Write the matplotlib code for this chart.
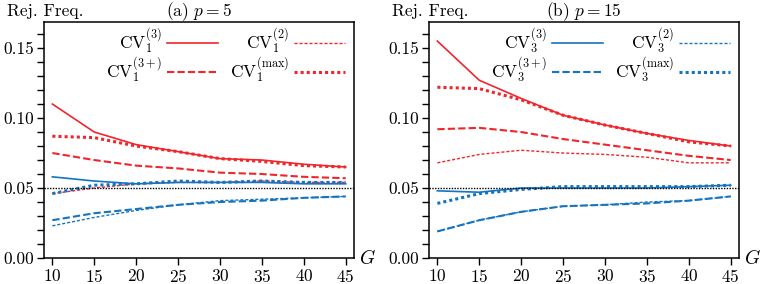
import numpy as np
import matplotlib
matplotlib.use('Agg')
import matplotlib.pyplot as plt
from matplotlib.ticker import MultipleLocator

plt.rcParams['font.family'] = ['cmr10']
plt.rcParams['mathtext.fontset'] = 'cm'
plt.rcParams['axes.formatter.use_mathtext'] = True

# number of groups
G = [10, 15, 20, 25, 30, 35, 40, 45]

# (a) p = 5
cv1_3_a = [0.110, 0.090, 0.081, 0.076, 0.071, 0.070, 0.067, 0.065]
cv1_max_a = [0.087, 0.086, 0.080, 0.076, 0.071, 0.069, 0.066, 0.065]
cv1_3p_a = [0.075, 0.070, 0.066, 0.064, 0.061, 0.060, 0.058, 0.057]
cv1_2_a = [0.046, 0.050, 0.053, 0.054, 0.054, 0.055, 0.054, 0.054]
cv3_3_a = [0.058, 0.055, 0.053, 0.054, 0.054, 0.054, 0.053, 0.053]
cv3_max_a = [0.046, 0.052, 0.053, 0.055, 0.054, 0.055, 0.054, 0.054]
cv3_3p_a = [0.027, 0.032, 0.035, 0.038, 0.040, 0.041, 0.043, 0.044]
cv3_2_a = [0.023, 0.029, 0.034, 0.038, 0.041, 0.042, 0.043, 0.044]

# (b) p = 15
cv1_3_b = [0.155, 0.127, 0.114, 0.102, 0.095, 0.089, 0.084, 0.080]
cv1_max_b = [0.122, 0.121, 0.113, 0.102, 0.095, 0.089, 0.083, 0.080]
cv1_3p_b = [0.092, 0.093, 0.090, 0.085, 0.081, 0.077, 0.073, 0.070]
cv1_2_b = [0.068, 0.074, 0.077, 0.075, 0.074, 0.072, 0.068, 0.068]
cv3_3_b = [0.048, 0.047, 0.050, 0.050, 0.050, 0.050, 0.051, 0.052]
cv3_max_b = [0.039, 0.046, 0.049, 0.051, 0.051, 0.051, 0.051, 0.052]
cv3_3p_b = [0.019, 0.027, 0.033, 0.037, 0.038, 0.039, 0.041, 0.044]
cv3_2_b = [0.019, 0.027, 0.033, 0.037, 0.038, 0.040, 0.041, 0.044]

red = '#f0262c'
blue = '#1574c0'

styles = {
    '3': dict(ls='-', lw=1.2),
    '3p': dict(ls=(0, (3.5, 1.5)), lw=1.5),
    '2': dict(ls=(0, (2.2, 1.4)), lw=1.0),
    'max': dict(ls=(0, (1, 1)), lw=2.2),
}

fig = plt.figure(figsize=(7.61, 2.84), dpi=100)
ax1 = fig.add_axes([0.0578, 0.0915, 0.4075, 0.831])
ax2 = fig.add_axes([0.5637, 0.0915, 0.4075, 0.831])


def panel(ax, red_series, blue_series, k, col, title):
    lines = {}
    for key, vals in red_series.items():
        l, = ax.plot(G, vals, color=red, **styles[key])
        if col == red:
            lines[key] = l
    for key, vals in blue_series.items():
        l, = ax.plot(G, vals, color=blue, **styles[key])
        if col == blue:
            lines[key] = l
    ax.axhline(0.05, color='black', ls=(0, (1, 1)), lw=1.0, zorder=5)

    ax.set_xlim(9, 46)
    ax.set_ylim(0, 0.1686)
    ax.set_xticks(G)
    ax.yaxis.set_major_locator(MultipleLocator(0.05))
    ax.yaxis.set_minor_locator(MultipleLocator(0.01))
    ax.yaxis.set_major_formatter(plt.FormatStrFormatter('%.2f'))
    ax.tick_params(axis='both', which='major', direction='out', length=5,
                   width=1.0, labelsize=12.5, pad=2)
    ax.tick_params(axis='y', which='minor', direction='out', length=5, width=1.0)
    for s in ax.spines.values():
        s.set_linewidth(1.1)

    ax.text(-0.118, 1.045, 'Rej. Freq.', transform=ax.transAxes, fontsize=12.5,
            ha='left', va='center')
    ax.text(0.5, 1.045, title, transform=ax.transAxes, fontsize=12.5,
            ha='center', va='center')
    ax.text(1.015, 0.0, '$G$', transform=ax.transAxes, fontsize=14,
            ha='left', va='center')

    order = ['3', '3p', '2', 'max']
    labels = {'3': r'$\mathrm{CV}_{%d}^{(3)}$' % k,
              '3p': r'$\mathrm{CV}_{%d}^{(3+)}$' % k,
              '2': r'$\mathrm{CV}_{%d}^{(2)}$' % k,
              'max': r'$\mathrm{CV}_{%d}^{(\mathrm{max})}$' % k}
    ax.legend([lines[o] for o in order], [labels[o] for o in order],
              ncol=2, loc='upper right', frameon=False, markerfirst=False,
              fontsize=12.5, handlelength=2.9, columnspacing=0.7,
              handletextpad=0.3, labelspacing=0.0, borderaxespad=0.15,
              bbox_to_anchor=(1.0, 1.02))


panel(ax1,
      {'3': cv1_3_a, 'max': cv1_max_a, '3p': cv1_3p_a, '2': cv1_2_a},
      {'3': cv3_3_a, 'max': cv3_max_a, '3p': cv3_3p_a, '2': cv3_2_a},
      1, red, r'(a) $p = 5$')
panel(ax2,
      {'3': cv1_3_b, 'max': cv1_max_b, '3p': cv1_3p_b, '2': cv1_2_b},
      {'3': cv3_3_b, 'max': cv3_max_b, '3p': cv3_3p_b, '2': cv3_2_b},
      3, blue, r'(b) $p = 15$')

fig.savefig('out.png', dpi=100)
